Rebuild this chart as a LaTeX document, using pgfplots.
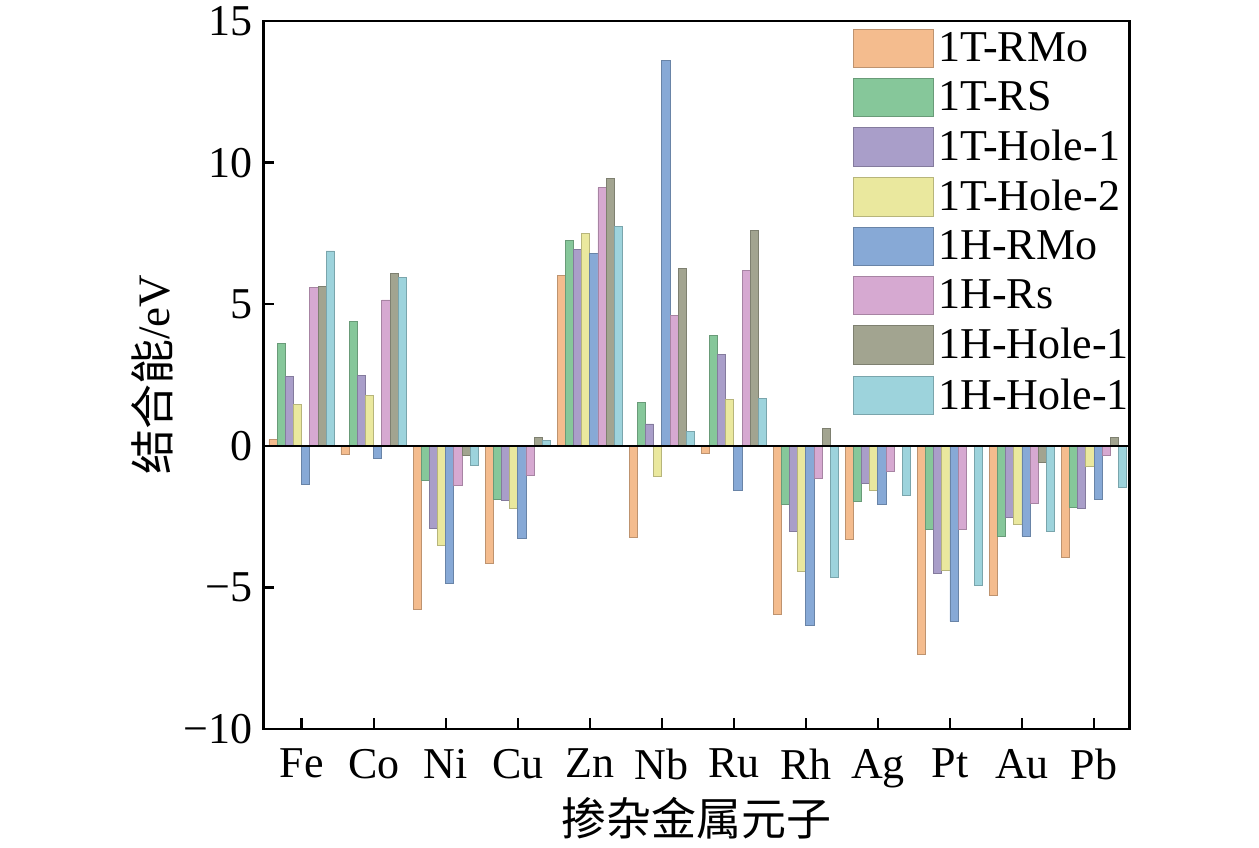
\documentclass[border=0pt]{standalone}
\usepackage{fontspec}
\setmainfont{Liberation Serif}
\newfontfamily\cjk{Noto Sans CJK SC}
\usepackage{pgfplots}
\usepackage{pgfplotstable}
\pgfplotsset{compat=1.18}

\definecolor{c1}{HTML}{F4BC8E}
\definecolor{c2}{HTML}{86C79A}
\definecolor{c3}{HTML}{A99EC9}
\definecolor{c4}{HTML}{EAE89E}
\definecolor{c5}{HTML}{87A9D6}
\definecolor{c6}{HTML}{D6A9D1}
\definecolor{c7}{HTML}{A2A490}
\definecolor{c8}{HTML}{9DD3DC}

\pgfplotsset{
  my legend/.style={legend image code/.code={\draw[##1] (0pt,-9.6pt) rectangle (40pt,9.6pt);}},
  bs/.style={fill=#1, draw=#1!78!black, line width=0.45pt, my legend},
}

% x: 0 Fe, 1 Co, 2 Ni, 3 Cu, 4 Zn, 5 Nb, 6 Ru, 7 Rh, 8 Ag, 9 Pt, 10 Au, 11 Pb
\pgfplotstableread{
x  s1     s2     s3     s4     s5     s6     s7     s8
0  0.22   3.63   2.45   1.47  -1.36   5.58   5.64   6.88
1  -0.32  4.38   2.48   1.77  -0.46   5.15   6.08   5.95
2  -5.78  -1.23  -2.91  -3.53 -4.86  -1.41  -0.34  -0.68
3  -4.14  -1.90  -1.92  -2.21 -3.27  -1.03   0.28   0.20
4  6.02   7.26   6.94   7.50   6.80   9.12   9.45   7.76
5  -3.22  1.53   0.77  -1.08  13.62   4.60   6.26   0.50
6  -0.28  3.88   3.22   1.65  -1.58   6.20   7.62   1.68
7  -5.96  -2.08  -3.02  -4.45 -6.35  -1.14   0.60  -4.64
8  -3.32  -1.95  -1.34  -1.58 -2.08  -0.89   0.00  -1.76
9  -7.37  -2.96  -4.50  -4.41 -6.20  -2.96   0.00  -4.94
10 -5.27  -3.19  -2.52  -2.78 -3.20  -2.03  -0.58  -3.01
11 -3.96  -2.17  -2.20  -0.73 -1.90  -0.34   0.28  -1.46
}\data

\begin{document}
\begin{tikzpicture}
\path[use as bounding box] (0,0) rectangle (629.5pt,423.5pt);
\begin{axis}[
  at={(131.65pt,59pt)}, anchor=south west,
  scale only axis, width=433pt, height=354pt,
  xmin=-0.533, xmax=11.49, ymin=-10, ymax=15,
  ybar=0pt, bar width=0.1136,
  xtick={0,1,2,3,4,5,6,7,8,9,10,11},
  xticklabels={Fe,Co,Ni,Cu,Zn,Nb,Ru,Rh,Ag,Pt,Au,Pb},
  ytick={-10,-5,0,5,10,15},
  yticklabels={−10,−5,0,5,10,15},
  xtick pos=bottom, ytick pos=left,
  tick align=inside,
  major tick length=5.5pt,
  tick style={black, line width=1.2pt},
  axis line style={black, line width=1.3pt},
  ticklabel style={font=\fontsize{22}{25}\selectfont},
  xticklabel style={yshift=-6.5pt},
  yticklabel style={xshift=-2pt},
  xlabel={\cjk 掺杂金属元子},
  ylabel={{\cjk 结合能}/eV},
  label style={font=\fontsize{22.5}{26}\selectfont},
  xlabel style={at={(axis description cs:0.5,-0.126)}, anchor=center},
  ylabel style={at={(axis description cs:-0.128,0.5)}, anchor=center},
  legend style={at={(0.674,0.996)}, anchor=north west, draw=none, fill=none,
    font=\fontsize{22}{26}\selectfont, row sep=4.4pt,
    nodes={inner sep=2pt, text depth=0.15em}},
  legend cell align=left,
]
\addplot[bs=c1] table[x=x,y=s1]{\data};
\addplot[bs=c2] table[x=x,y=s2]{\data};
\addplot[bs=c3] table[x=x,y=s3]{\data};
\addplot[bs=c4] table[x=x,y=s4]{\data};
\addplot[bs=c5] table[x=x,y=s5]{\data};
\addplot[bs=c6] table[x=x,y=s6]{\data};
\addplot[bs=c7] table[x=x,y=s7]{\data};
\addplot[bs=c8] table[x=x,y=s8]{\data};
\legend{1T-RMo,1T-RS,1T-Hole-1,1T-Hole-2,1H-RMo,1H-Rs,1H-Hole-1,1H-Hole-1}
\draw[black, line width=1.1pt] (axis cs:-1,0) -- (axis cs:12,0);
\end{axis}
\end{tikzpicture}
\end{document}
